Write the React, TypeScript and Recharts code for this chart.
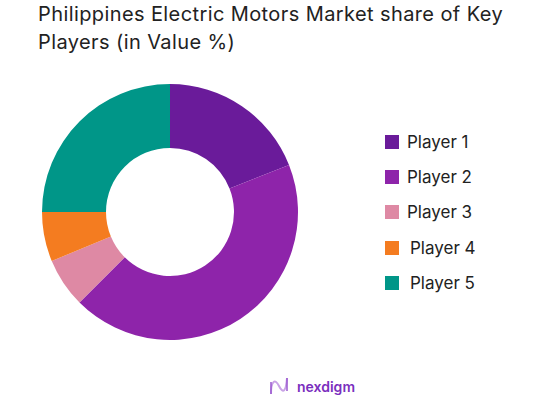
import React from 'react';
import { PieChart, Pie, Cell, Legend } from 'recharts';

const players = ['Player 1', 'Player 2', 'Player 3', 'Player 4', 'Player 5'];
const shares = [19, 43.5, 6.25, 6.25, 25];
const colors = ['#6a1b9a', '#8e24aa', '#de89a4', '#f47c20', '#009688'];

const data = players.map((name, i) => ({ name, value: shares[i] }));

const renderLegend = () => (
  <div style={{ fontFamily: 'Inter, sans-serif' }}>
    {players.map((p, i) => (
      <div key={p} style={{ display: 'flex', alignItems: 'center', height: 35.3 }}>
        <div style={{ width: 14, height: 14, background: colors[i], marginRight: 8 }} />
        <span style={{ fontSize: 17, color: '#222', paddingLeft: i >= 3 ? 3 : 0 }}>{p}</span>
      </div>
    ))}
  </div>
);

export default function App() {
  return (
    <div style={{ position: 'absolute', left: 0, top: 0, width: 545, height: 417, background: '#fff', overflow: 'hidden' }}>
      <div
        style={{
          position: 'absolute',
          left: 38,
          top: 0,
          fontFamily: 'Inter, sans-serif',
          fontSize: 20,
          letterSpacing: 0.4,
          lineHeight: '28px',
          color: '#222',
          width: 520,
          whiteSpace: 'nowrap',
        }}
      >
        Philippines Electric Motors Market share of Key
        <br />
        Players (in Value %)
      </div>
      <PieChart width={545} height={417} margin={{ top: 0, right: 0, bottom: 0, left: 0 }} style={{ position: 'absolute', left: 0, top: 0 }}>
        <Pie
          data={data}
          dataKey="value"
          nameKey="name"
          cx={170}
          cy={212}
          innerRadius={64}
          outerRadius={128}
          startAngle={90}
          endAngle={-270}
          stroke="none"
          isAnimationActive={false}
        >
          {data.map((d, i) => (
            <Cell key={d.name} fill={colors[i]} />
          ))}
        </Pie>
        <Legend
          layout="vertical"
          content={renderLegend}
          wrapperStyle={{ position: 'absolute', left: 385, top: 124, width: 150 }}
        />
      </PieChart>
      <div style={{ position: 'absolute', left: 268, top: 377, display: 'flex', alignItems: 'center' }}>
        <svg width={22} height={18} viewBox="0 0 22 18">
          <path d="M3 17 C3 4, 7 1, 11 9 S 18 15, 19 1" fill="none" stroke="#c9a3e6" strokeWidth={2} />
          <path d="M3 17 V5 M19 1 V14" fill="none" stroke="#9b59d0" strokeWidth={1.5} />
        </svg>
        <span style={{ fontFamily: 'Inter, sans-serif', fontWeight: 600, fontSize: 14, color: '#7b2fbe', marginLeft: 7 }}>
          nexdigm
        </span>
      </div>
    </div>
  );
}
